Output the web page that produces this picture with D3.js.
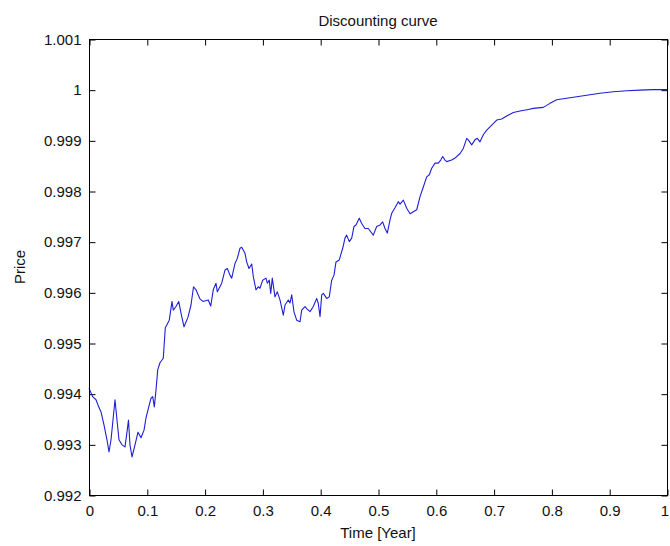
<!DOCTYPE html>
<html><head><meta charset="utf-8">
<script src="https://cdn.jsdelivr.net/npm/d3@7"></script>
<style>
html,body{margin:0;padding:0;background:#fff;}
text{font-family:"Liberation Sans",Arial,sans-serif;fill:#111;}
</style></head>
<body><svg id="c" width="670" height="546"></svg>
<script>
const times = [0,0.0064,0.0121,0.0168,0.0208,0.0260,0.0311,0.0346,0.0381,0.0415,0.0450,0.0484,0.0519,0.0571,0.0623,0.0657,0.0683,0.0709,0.0744,0.0796,0.0848,0.0900,0.0952,0.0986,0.1021,0.1073,0.1102,0.1130,0.1159,0.1189,0.1228,0.1285,0.1320,0.1362,0.1389,0.1436,0.1458,0.1505,0.1552,0.1592,0.1644,0.1713,0.1765,0.1808,0.1851,0.1920,0.1972,0.2064,0.2106,0.2150,0.2197,0.2220,0.2296,0.2353,0.2393,0.2439,0.2469,0.2526,0.2566,0.2612,0.2642,0.2699,0.2728,0.2768,0.2815,0.2843,0.2889,0.2929,0.2958,0.3005,0.3062,0.3085,0.3119,0.3144,0.3171,0.3218,0.3258,0.3304,0.3362,0.3391,0.3448,0.3478,0.3507,0.3547,0.3593,0.3651,0.3680,0.3737,0.3766,0.3824,0.3881,0.3939,0.3967,0.3997,0.4026,0.4054,0.4112,0.4157,0.4199,0.4239,0.4273,0.4330,0.4389,0.4429,0.4458,0.4503,0.4545,0.4585,0.4619,0.4676,0.4718,0.4775,0.4832,0.4919,0.4977,0.5035,0.5081,0.5121,0.5161,0.5208,0.5237,0.5294,0.5351,0.5381,0.5438,0.5497,0.5554,0.5611,0.5670,0.5727,0.5784,0.5843,0.5888,0.5929,0.5986,0.6043,0.6085,0.6119,0.6159,0.6189,0.6275,0.6332,0.6419,0.6476,0.6535,0.6562,0.6621,0.6678,0.6718,0.6765,0.6822,0.6881,0.6967,0.7054,0.7140,0.7227,0.7341,0.7457,0.7600,0.7687,0.7860,0.7976,0.8092,0.8265,0.8438,0.8611,0.8841,0.9071,0.9303,0.9533,0.9763,1.0];
const prices = [0.99411,0.99394,0.99388,0.99374,0.99364,0.99338,0.99309,0.99285,0.99309,0.99348,0.99388,0.99348,0.99309,0.99299,0.99295,0.99324,0.99348,0.99299,0.99275,0.99299,0.99324,0.99313,0.99328,0.99352,0.99368,0.99391,0.99394,0.99374,0.99407,0.99447,0.99461,0.99470,0.99530,0.99539,0.99545,0.99582,0.99565,0.99572,0.99582,0.99559,0.99532,0.99551,0.99575,0.99611,0.99605,0.99587,0.99582,0.99585,0.99573,0.99605,0.99618,0.99601,0.99618,0.99644,0.99647,0.99634,0.99628,0.99657,0.99667,0.99687,0.99689,0.99677,0.99660,0.99647,0.99656,0.99631,0.99605,0.99611,0.99608,0.99624,0.99628,0.99618,0.99624,0.99598,0.99628,0.99591,0.99601,0.99585,0.99555,0.99575,0.99585,0.99579,0.99595,0.99561,0.99545,0.99542,0.99565,0.99572,0.99568,0.99562,0.99572,0.99588,0.99578,0.99552,0.99595,0.99598,0.99588,0.99591,0.99624,0.99634,0.99660,0.99664,0.99687,0.99707,0.99713,0.99700,0.99707,0.99730,0.99733,0.99746,0.99736,0.99726,0.99726,0.99713,0.99730,0.99733,0.99739,0.99726,0.99717,0.99743,0.99756,0.99767,0.99779,0.99774,0.99782,0.99766,0.99755,0.99759,0.99763,0.99789,0.99808,0.99828,0.99832,0.99845,0.99855,0.99855,0.99861,0.99868,0.99861,0.99858,0.99861,0.99865,0.99874,0.99884,0.99904,0.99901,0.99891,0.99901,0.99904,0.99897,0.99911,0.99920,0.99930,0.99940,0.99942,0.99948,0.99955,0.99958,0.99961,0.99963,0.99965,0.99973,0.99980,0.99983,0.99986,0.99989,0.99993,0.99996,0.99998,0.99999,1.00000,1.00000];
const xTicks = [0,0.1,0.2,0.3,0.4,0.5,0.6,0.7,0.8,0.9,1];
const xTickLabels = ["0","0.1","0.2","0.3","0.4","0.5","0.6","0.7","0.8","0.9","1"];
const yTicks = [0.992,0.993,0.994,0.995,0.996,0.997,0.998,0.999,1.0,1.001];
const yTickLabels = ["0.992","0.993","0.994","0.995","0.996","0.997","0.998","0.999","1","1.001"];
const titleText = "Discounting curve";
const xLabelText = "Time [Year]";
const yLabelText = "Price";

const L = 89, R = 667, T = 39, B = 495;
const svg = d3.select("#c");
const x = d3.scaleLinear().domain([0,1]).range([L,R]);
const y = d3.scaleLinear().domain([0.992,1.001]).range([B,T]);
const tickLen = 6;
const fs = 15;

svg.append("rect").attr("x",L+0.5).attr("y",T+0.5).attr("width",R-L).attr("height",B-T)
  .attr("fill","#fff").attr("stroke","#000").attr("stroke-width",1);

const xb = svg.append("g").attr("transform",`translate(0.5,${B+0.5})`)
  .call(d3.axisBottom(x).tickValues(xTicks).tickSizeInner(-tickLen).tickSizeOuter(0).tickPadding(10)
    .tickFormat((d,i)=>xTickLabels[i]));
const xt = svg.append("g").attr("transform",`translate(0.5,${T+0.5})`)
  .call(d3.axisTop(x).tickValues(xTicks).tickSizeInner(-tickLen).tickSizeOuter(0).tickFormat(""));
const yl = svg.append("g").attr("transform",`translate(${L+0.5},0.5)`)
  .call(d3.axisLeft(y).tickValues(yTicks).tickSizeInner(-tickLen).tickSizeOuter(0).tickPadding(8)
    .tickFormat((d,i)=>yTickLabels[i]));
const yr = svg.append("g").attr("transform",`translate(${R+0.5},0.5)`)
  .call(d3.axisRight(y).tickValues(yTicks).tickSizeInner(-tickLen).tickSizeOuter(0).tickFormat(""));
[xb,xt,yl,yr].forEach(g=>{
  g.select(".domain").remove();
  g.selectAll("line").attr("stroke","#000");
  g.selectAll("text").attr("font-size",fs).attr("fill","#111")
    .style("font-family",'"Liberation Sans",Arial,sans-serif');
});
// keep the last x label inside the window
xb.selectAll(".tick text").filter(d=>d===1).attr("dx",-3);

const line = d3.line().x((d,i)=>x(times[i])).y(d=>y(d));
svg.append("path").datum(prices).attr("d",line)
  .attr("fill","none").attr("stroke","#1f1fd6").attr("stroke-width",1.1).attr("stroke-linejoin","round");

svg.append("rect").attr("x",L+0.5).attr("y",T+0.5).attr("width",R-L).attr("height",B-T)
  .attr("fill","none").attr("stroke","#000").attr("stroke-width",1);

svg.append("text").attr("x",(L+R)/2).attr("y",26).attr("text-anchor","middle").attr("font-size",fs).text(titleText);
svg.append("text").attr("x",(L+R)/2).attr("y",538).attr("text-anchor","middle").attr("font-size",fs).text(xLabelText);
svg.append("text").attr("transform",`translate(25,${(T+B)/2}) rotate(-90)`).attr("text-anchor","middle").attr("font-size",fs).text(yLabelText);
</script></body></html>
